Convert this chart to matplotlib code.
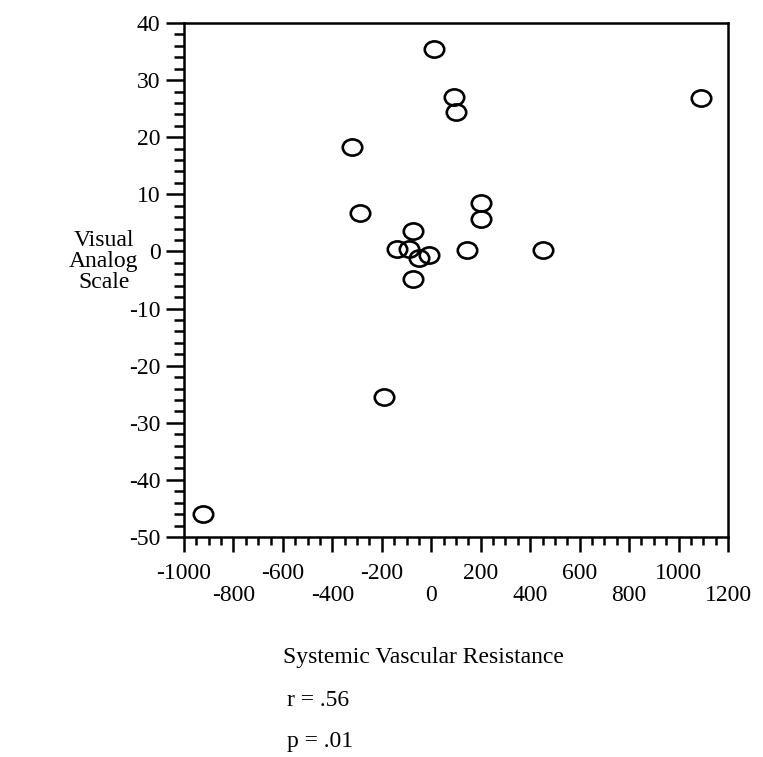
import numpy as np
import matplotlib
matplotlib.use("Agg")
import matplotlib.pyplot as plt
from matplotlib.path import Path
from matplotlib.ticker import MultipleLocator, FixedLocator, FixedFormatter

# change in systemic vascular resistance vs change in VAS score
svr = [10, 90, 100, 1090, -320, -290, 200, 200, -75,
       -140, -90, -50, -10, -75, 145, 450, -190, -925]
vas = [35.5, 27, 24.5, 26.8, 18.3, 6.8, 8.5, 5.6, 3.5,
       0.4, 0.4, -1.2, -0.6, -4.8, 0.3, 0.3, -25.5, -46]

x_ticks = [-1000, -800, -600, -400, -200, 0, 200, 400, 600, 800, 1000, 1200]
y_ticks = [40, 30, 20, 10, 0, -10, -20, -30, -40, -50]
stats = ["r = .56", "p = .01"]

plt.rcParams['font.family'] = ['Liberation Serif', 'DejaVu Serif']
fs = 17

fig = plt.figure(figsize=(7.63, 7.57), dpi=100)
W, H = 763, 757
# axes box in pixels: left, right, top, bottom
L, R, T, B = 184, 728, 23, 537
ax = fig.add_axes([L / W, 1 - B / H, (R - L) / W, (B - T) / H])

# slightly wide open circles
uc = Path.unit_circle()
oval = Path(uc.vertices * np.array([1.2, 1.0]), uc.codes)
ax.plot(svr, vas, linestyle='none', marker=oval, markersize=14,
        markerfacecolor='none', markeredgecolor='black', markeredgewidth=1.9)

ax.set_xlim(-1000, 1200)
ax.set_ylim(-50, 40)

for s in ax.spines.values():
    s.set_linewidth(1.8)

ax.yaxis.set_major_locator(FixedLocator(y_ticks))
ax.yaxis.set_major_formatter(FixedFormatter([str(v) for v in y_ticks]))
ax.yaxis.set_minor_locator(MultipleLocator(2))

# labels on two staggered rows
x_lbls = [str(v) if i % 2 == 0 else "\n" + str(v) for i, v in enumerate(x_ticks)]
ax.xaxis.set_major_locator(FixedLocator(x_ticks))
ax.xaxis.set_major_formatter(FixedFormatter(x_lbls))
ax.xaxis.set_minor_locator(MultipleLocator(50))

ax.tick_params(axis='both', which='major', direction='out', width=1.8,
               labelsize=fs, color='black')
ax.tick_params(axis='both', which='minor', direction='out', width=1.8)
ax.tick_params(axis='y', which='major', length=13, pad=4)
ax.tick_params(axis='y', which='minor', length=7)
ax.tick_params(axis='x', which='major', length=11, pad=8)
ax.tick_params(axis='x', which='minor', length=6)
for t in ax.get_xticklabels():
    t.set_linespacing(1.05)

fig.text(104 / W, 1 - 262 / H, "Visual\nAnalog\nScale", ha='center',
         va='center', fontsize=fs, linespacing=1.0, multialignment='center')
fig.text(423 / W, 1 - 657 / H, "Systemic Vascular Resistance", ha='center',
         va='center', fontsize=fs)
fig.text(287 / W, 1 - 700 / H, stats[0], ha='left', va='center', fontsize=fs)
fig.text(287 / W, 1 - 742 / H, stats[1], ha='left', va='center', fontsize=fs)

fig.savefig("out.png", dpi=100, facecolor='white')
